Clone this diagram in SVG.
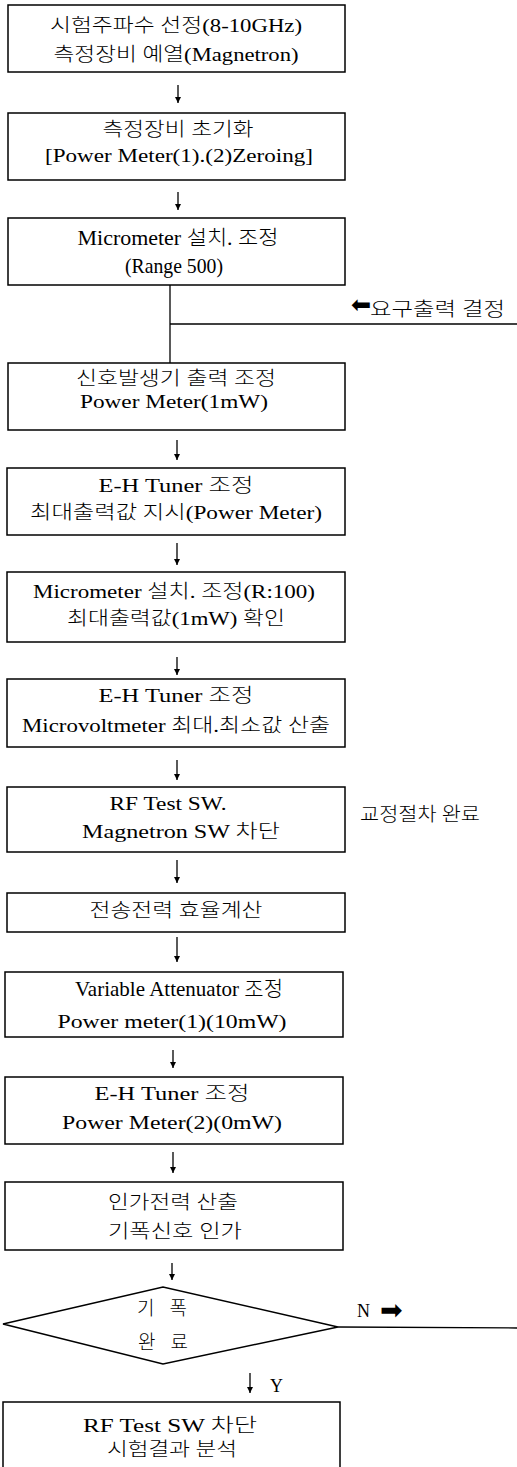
<svg xmlns="http://www.w3.org/2000/svg" width="517" height="1467" viewBox="0 0 517 1467">
<style>
.box{fill:#fff;stroke:#000;stroke-width:1.5}
.t{font-family:"Liberation Serif","Noto Sans CJK KR",serif;font-size:19px;font-weight:300;fill:#000;text-anchor:middle}
.l{font-family:"Liberation Serif","Noto Sans CJK KR",serif;font-size:19px;font-weight:300;fill:#000}
.c{fill:none;stroke:#000;stroke-width:1.3}
.sym{font-family:"DejaVu Sans",sans-serif;fill:#000}
</style>
<defs>
<marker id="ad" markerUnits="userSpaceOnUse" markerWidth="6" markerHeight="6" refX="3" refY="6" viewBox="0 0 6 6">
<path d="M0,0 L6,0 L3,6 Z" fill="#000"/>
</marker>
</defs>

<g id="connectors">
<line class="c" x1="178" y1="85" x2="178" y2="103" marker-end="url(#ad)"/>
<line class="c" x1="178" y1="192" x2="178" y2="210" marker-end="url(#ad)"/>
<polyline class="c" points="170,285 170,363"/>
<line class="c" x1="170" y1="324" x2="517" y2="324"/>
<line class="c" x1="177" y1="440" x2="177" y2="460" marker-end="url(#ad)"/>
<line class="c" x1="177" y1="543" x2="177" y2="565" marker-end="url(#ad)"/>
<line class="c" x1="177" y1="657" x2="177" y2="675" marker-end="url(#ad)"/>
<line class="c" x1="177" y1="760" x2="177" y2="780" marker-end="url(#ad)"/>
<line class="c" x1="177" y1="860" x2="177" y2="883" marker-end="url(#ad)"/>
<line class="c" x1="177" y1="937" x2="177" y2="962" marker-end="url(#ad)"/>
<line class="c" x1="173" y1="1050" x2="173" y2="1068" marker-end="url(#ad)"/>
<line class="c" x1="173" y1="1152" x2="173" y2="1173" marker-end="url(#ad)"/>
<line class="c" x1="172" y1="1263" x2="172" y2="1280" marker-end="url(#ad)"/>
<line class="c" x1="338" y1="1327" x2="517" y2="1328"/>
<line class="c" x1="250" y1="1373" x2="250" y2="1393" marker-end="url(#ad)"/>
<text class="sym" x="351" y="313" style="font-size:24px">⬅</text>
<text class="l" x="370" y="316" textLength="135" lengthAdjust="spacingAndGlyphs">요구출력 결정</text>
<text class="l" x="357" y="1317" textLength="13" lengthAdjust="spacingAndGlyphs">N</text>
<text class="sym" x="380" y="1319" style="font-size:27px">➡</text>
<text class="l" x="270" y="1392" textLength="13" lengthAdjust="spacingAndGlyphs">Y</text>
<text class="l" x="360" y="821" textLength="120" lengthAdjust="spacingAndGlyphs">교정절차 완료</text>
</g>

<g id="n1">
<rect class="box" x="8" y="5" width="337" height="67"/>
<text class="t" x="176" y="32" textLength="252" lengthAdjust="spacingAndGlyphs">시험주파수 선정(8-10GHz)</text>
<text class="t" x="176" y="61" textLength="245" lengthAdjust="spacingAndGlyphs">측정장비 예열(Magnetron)</text>
</g>
<g id="n2">
<rect class="box" x="8" y="113" width="337" height="67"/>
<text class="t" x="178" y="136" textLength="151" lengthAdjust="spacingAndGlyphs">측정장비 초기화</text>
<text class="t" x="179" y="162" textLength="268" lengthAdjust="spacingAndGlyphs">[Power Meter(1).(2)Zeroing]</text>
</g>
<g id="n3">
<rect class="box" x="8" y="218" width="337" height="67"/>
<text class="t" x="178" y="245" style="font-size:20.5px" textLength="201" lengthAdjust="spacingAndGlyphs">Micrometer 설치. 조정</text>
<text class="t" x="174" y="273" style="font-size:21px" textLength="98" lengthAdjust="spacingAndGlyphs">(Range 500)</text>
</g>
<g id="n4">
<rect class="box" x="8" y="363" width="337" height="67"/>
<text class="t" x="176" y="385" textLength="200" lengthAdjust="spacingAndGlyphs">신호발생기 출력 조정</text>
<text class="t" x="174" y="408" textLength="188" lengthAdjust="spacingAndGlyphs">Power Meter(1mW)</text>
</g>
<g id="n5">
<rect class="box" x="7" y="468" width="338" height="67"/>
<text class="t" x="176" y="492" textLength="155" lengthAdjust="spacingAndGlyphs">E-H Tuner 조정</text>
<text class="t" x="176" y="519" textLength="292" lengthAdjust="spacingAndGlyphs">최대출력값 지시(Power Meter)</text>
</g>
<g id="n6">
<rect class="box" x="7" y="572" width="338" height="70"/>
<text class="t" x="174" y="598" textLength="282" lengthAdjust="spacingAndGlyphs">Micrometer 설치. 조정(R:100)</text>
<text class="t" x="176" y="625" textLength="218" lengthAdjust="spacingAndGlyphs">최대출력값(1mW) 확인</text>
</g>
<g id="n7">
<rect class="box" x="7" y="679" width="338" height="68"/>
<text class="t" x="176" y="702" textLength="155" lengthAdjust="spacingAndGlyphs">E-H Tuner 조정</text>
<text class="t" x="176" y="732" textLength="308" lengthAdjust="spacingAndGlyphs">Microvoltmeter 최대.최소값 산출</text>
</g>
<g id="n8">
<rect class="box" x="7" y="787" width="338" height="65"/>
<text class="t" x="168" y="810" textLength="117" lengthAdjust="spacingAndGlyphs">RF Test SW.</text>
<text class="t" x="181" y="838" textLength="198" lengthAdjust="spacingAndGlyphs">Magnetron SW 차단</text>
</g>
<g id="n9">
<rect class="box" x="7" y="893" width="338" height="39"/>
<text class="t" x="176" y="917" textLength="173" lengthAdjust="spacingAndGlyphs">전송전력 효율계산</text>
</g>
<g id="n10">
<rect class="box" x="5" y="972" width="338" height="65"/>
<text class="t" x="179" y="996" style="font-size:21px" textLength="208" lengthAdjust="spacingAndGlyphs">Variable Attenuator 조정</text>
<text class="t" x="172" y="1028" textLength="229" lengthAdjust="spacingAndGlyphs">Power meter(1)(10mW)</text>
</g>
<g id="n11">
<rect class="box" x="5" y="1077" width="338" height="67"/>
<text class="t" x="172" y="1100" textLength="155" lengthAdjust="spacingAndGlyphs">E-H Tuner 조정</text>
<text class="t" x="172" y="1129" textLength="220" lengthAdjust="spacingAndGlyphs">Power Meter(2)(0mW)</text>
</g>
<g id="n12">
<rect class="box" x="5" y="1182" width="338" height="68"/>
<text class="t" x="173" y="1209" textLength="130" lengthAdjust="spacingAndGlyphs">인가전력 산출</text>
<text class="t" x="175" y="1238" textLength="134" lengthAdjust="spacingAndGlyphs">기폭신호 인가</text>
</g>
<g id="n13">
<polygon class="box" points="3,1324 163,1287 338,1327 163,1364"/>
<text class="t" x="162" y="1315" textLength="50" lengthAdjust="spacing">기  폭</text>
<text class="t" x="163" y="1349" textLength="50" lengthAdjust="spacing">완  료</text>
</g>
<g id="n14">
<rect class="box" x="3" y="1402" width="337" height="70"/>
<text class="t" x="170" y="1432" textLength="174" lengthAdjust="spacingAndGlyphs">RF Test SW 차단</text>
<text class="t" x="172" y="1456" textLength="130" lengthAdjust="spacingAndGlyphs">시험결과 분석</text>
</g>
</svg>
